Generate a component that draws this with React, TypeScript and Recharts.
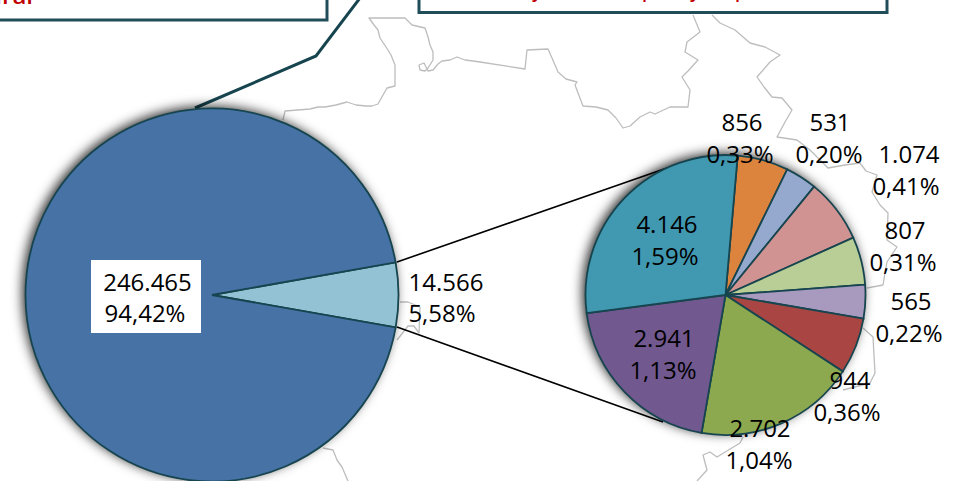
import { Cell, Pie, PieChart } from 'recharts'

const WIDTH = 960
const HEIGHT = 481

// left pie: the light slice is what the right pie breaks down
const mainLabels = ['14.566', '246.465']
const mainValues = [14566, 246465]
const mainPercents = ['5,58%', '94,42%']
const mainColors = ['#93c2d4', '#4672a6']

const detailLabels = ['856', '531', '1.074', '807', '565', '944', '2.702', '2.941', '4.146']
const detailValues = [856, 531, 1074, 807, 565, 944, 2702, 2941, 4146]
const detailPercents = ['0,33%', '0,20%', '0,41%', '0,31%', '0,22%', '0,36%', '1,04%', '1,13%', '1,59%']
const detailColors = [
  '#dc833d',
  '#95a9ce',
  '#d09392',
  '#b9cd96',
  '#a899be',
  '#a94643',
  '#8da94f',
  '#71588f',
  '#4198b1',
]

const mainData = mainValues.map((value, i) => ({ value, label: mainLabels[i], percent: mainPercents[i] }))
const detailData = detailValues.map((value, i) => ({ value, label: detailLabels[i], percent: detailPercents[i] }))

// hand placed in the original, [value x, value baseline, percent x, percent baseline]
const MAIN_LABEL_POS = [
  [446, 291, 442, 322],
  [147.5, 291, 145, 322],
]
const DETAIL_LABEL_POS = [
  [742, 131, 740, 163],
  [830, 131, 829, 163],
  [909, 163, 906, 195],
  [905, 239, 903, 271],
  [911, 310, 909, 342],
  [850, 389, 847, 421],
  [760, 437, 759, 469],
  [664, 347, 663, 379],
  [667, 233, 665, 265],
]

const STROKE = '#17454f'
const FONT = '"Open Sans", sans-serif'
const SHADOW = { filter: 'drop-shadow(-3px -2px 6px rgba(0,0,0,0.85))' }

// state borders behind the pies
const MAP_PATHS = [
  'M283 120 L285 111 L298 110 L310 109 L318 107 L325 107 L336 105 L347 102 L356 105 L366 106 L372 106 L378 104 L383 95 L387 88 L395 86 L395 65 L391 55 L388 50 L380 38 L378 30 L374 25 L369 18 L405 18 L412 25 L425 28 L428 37 L430 45 L433 52 L433 60 L428 68 L425 71 L420 70 L419 65 L424 63 L428 71 L433 70 L438 64 L442 61 L450 60 L457 57 L465 60 L473 61 L480 62 L525 69 L527 50 L548 49 L552 58 L558 72 L566 79 L577 82 L575 85 L583 106 L596 107 L608 110 L616 118 L623 128 L630 126 L640 117 L650 112 L655 114 L670 107 L688 107 L690 90 L682 77 L688 71 L698 60 L685 52 L687 42 L700 32 L693 15',
  'M712 15 L720 23 L735 30 L750 43 L765 47 L780 55 L770 62 L757 77 L764 87 L772 97 L782 98 L792 110 L785 122 L777 137 L797 140 L810 150 L828 168 L845 165 L860 163 L866 171 L877 175 L872 192 L880 205 L888 213 L887 240 L897 247 L887 262 L885 273 L883 285 L867 288 M863 328 L873 337 L874 355 L875 373 L870 383 L843 390 M743 437 L740 443 L717 457 L710 452 L703 455 L707 470 L697 481',
  'M400 302 L408 302 L420 307 L419 333 L414 326 L408 326 L397 340',
  'M323 448 L333 450 L337 460 L342 467 L348 481',
]

function twoLineLabel(pos: number[][], boxed: number) {
  return (props: any) => {
    const i = props.index
    const [x1, y1, x2, y2] = pos[i]
    const d = props.payload
    return (
      <g>
        {i === boxed && <rect x={91} y={260} width={110} height={73} fill="#fff" />}
        <text x={x1} y={y1} textAnchor="middle" fontFamily={FONT} fontSize={24} fill="#000">
          {d.label}
        </text>
        <text x={x2} y={y2} textAnchor="middle" fontFamily={FONT} fontSize={24} fill="#000">
          {d.percent}
        </text>
      </g>
    )
  }
}

export default function App() {
  return (
    <div style={{ position: 'absolute', left: 0, top: 0, width: WIDTH, height: HEIGHT, background: '#fff', overflow: 'hidden' }}>
      <svg width={WIDTH} height={HEIGHT} style={{ position: 'absolute', left: 0, top: 0 }}>
        {MAP_PATHS.map((d) => (
          <path key={d} d={d} fill="none" stroke="#bdbdbd" strokeWidth={1.3} strokeLinejoin="round" />
        ))}
        <rect x={-10} y={-10} width={337} height={30} fill="#fff" stroke="#1f4e5a" strokeWidth={3} />
        <rect x={419} y={-10} width={468} height={22.5} fill="#fff" stroke="#1f4e5a" strokeWidth={3} />
        <text x={33} y={4} textAnchor="end" fontFamily={FONT} fontSize={24} fontWeight={600} fill="#c00000">
          Rural
        </text>
        <text fontFamily={FONT} fontSize={18} fontWeight={600} fill="#c00000" y={-2}>
          <tspan x={532}>y</tspan>
          <tspan x={642}>p</tspan>
          <tspan x={690}>y</tspan>
          <tspan x={735}>p</tspan>
        </text>
        <path d="M195 108 L316 56 L360 -2" fill="none" stroke={STROKE} strokeWidth={3} />
        <path d="M397 262 L667 168 M397 327 L663 422" fill="none" stroke="#000" strokeWidth={1.6} />
      </svg>
      <div style={{ position: 'absolute', left: 0, top: 0 }}>
        <PieChart width={WIDTH} height={HEIGHT} margin={{ top: 0, right: 0, bottom: 0, left: 0 }}>
          <Pie
            data={[{ value: 1 }]}
            dataKey="value"
            cx={212}
            cy={295}
            outerRadius={186.5}
            stroke="none"
            fill="#4672a6"
            style={SHADOW}
            isAnimationActive={false}
          />
          <Pie
            data={[{ value: 1 }]}
            dataKey="value"
            cx={725.5}
            cy={295}
            outerRadius={140}
            stroke="none"
            fill="#4198b1"
            style={SHADOW}
            isAnimationActive={false}
          />
          <Pie
            data={mainData}
            dataKey="value"
            cx={212}
            cy={295}
            outerRadius={186.5}
            startAngle={-10}
            endAngle={350}
            stroke={STROKE}
            strokeWidth={1.8}
            label={twoLineLabel(MAIN_LABEL_POS, 1)}
            labelLine={false}
            isAnimationActive={false}
          >
            {mainData.map((d, i) => (
              <Cell key={d.label} fill={mainColors[i]} />
            ))}
          </Pie>
          <Pie
            data={detailData}
            dataKey="value"
            cx={725.5}
            cy={295}
            outerRadius={140}
            startAngle={85}
            endAngle={-275}
            stroke={STROKE}
            strokeWidth={1.8}
            label={twoLineLabel(DETAIL_LABEL_POS, -1)}
            labelLine={false}
            isAnimationActive={false}
          >
            {detailData.map((d, i) => (
              <Cell key={d.label} fill={detailColors[i]} />
            ))}
          </Pie>
        </PieChart>
      </div>
    </div>
  )
}
